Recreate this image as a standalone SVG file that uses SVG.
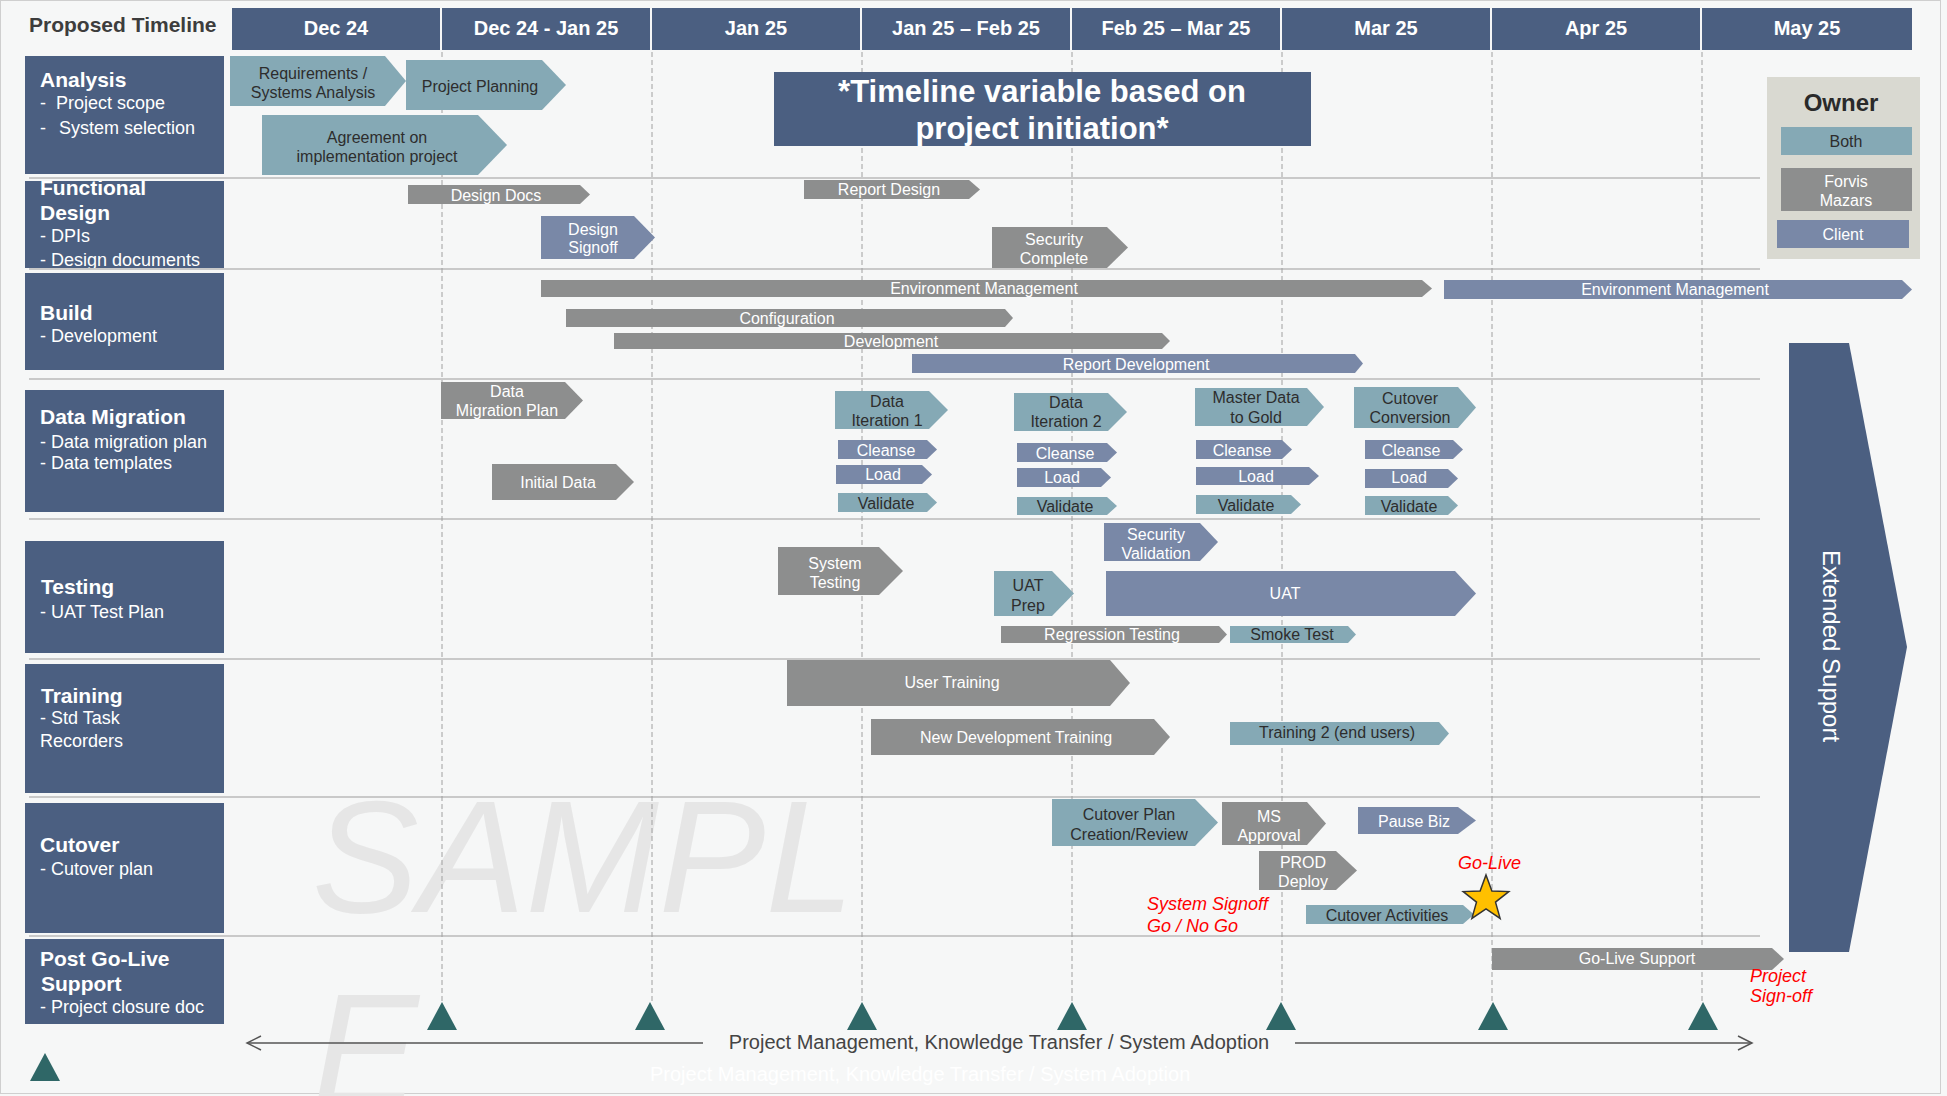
<svg xmlns="http://www.w3.org/2000/svg" width="1947" height="1096" viewBox="0 0 1947 1096">
<defs>
<style>
text{font-family:"Liberation Sans",Arial,sans-serif}
.hd{fill:#4B5F81}
.both{fill:#85A9B5}
.fm{fill:#8D8E8E}
.cl{fill:#7988A7}
.bt{font-size:16px;text-anchor:middle}
.dk{fill:#2d2d2d}
.wt{fill:#ffffff}
.col{font-size:20px;font-weight:bold;fill:#fff;text-anchor:middle}
.lt{font-size:21px;font-weight:bold;fill:#fff}
.ls{font-size:18px;fill:#fff}
.sep{stroke:#c9c9c9;stroke-width:2}
.dash{stroke:#a0a0a0;stroke-width:1;stroke-dasharray:5 3}
.ms{fill:#2F6767}
.red{font-size:18px;font-style:italic;fill:#ff0000}
.ln{stroke:#555;stroke-width:1.5;fill:none}
</style>
<clipPath id="fdclip"><rect x="25" y="181" width="199" height="87"/></clipPath>
</defs>
<rect x="0" y="0" width="1947" height="1096" fill="#F6F7F7"/>
<rect x="0.5" y="0.5" width="1940" height="1093" fill="none" stroke="#cfcfcf" stroke-width="1"/>

<!-- watermark -->
<text x="312" y="912" font-size="160" font-style="italic" fill="#e6e6e6">SAMPL</text>
<text x="312" y="1105" font-size="160" font-style="italic" fill="#e6e6e6">E</text>
<text x="650" y="1081" font-size="20" fill="#ffffff">Project Management, Knowledge Transfer / System Adoption</text>

<!-- grid -->
<g id="grid">
<line class="sep" x1="29" y1="178" x2="1760" y2="178"/>
<line class="sep" x1="29" y1="269" x2="1760" y2="269"/>
<line class="sep" x1="29" y1="379" x2="1760" y2="379"/>
<line class="sep" x1="29" y1="519" x2="1760" y2="519"/>
<line class="sep" x1="29" y1="659" x2="1760" y2="659"/>
<line class="sep" x1="29" y1="797" x2="1760" y2="797"/>
<line class="sep" x1="29" y1="936" x2="1760" y2="936"/>
<line class="dash" x1="442" y1="52" x2="442" y2="1002"/>
<line class="dash" x1="652" y1="52" x2="652" y2="1002"/>
<line class="dash" x1="862" y1="52" x2="862" y2="1002"/>
<line class="dash" x1="1072" y1="52" x2="1072" y2="1002"/>
<line class="dash" x1="1282" y1="52" x2="1282" y2="1002"/>
<line class="dash" x1="1492" y1="52" x2="1492" y2="1002"/>
<line class="dash" x1="1702" y1="52" x2="1702" y2="1002"/>
</g>

<!-- header -->
<g id="header">
<text x="29" y="32" font-size="21" font-weight="bold" fill="#3d3d3d">Proposed Timeline</text>
<rect class="hd" x="232" y="8" width="208" height="42"/>
<rect class="hd" x="442" y="8" width="208" height="42"/>
<rect class="hd" x="652" y="8" width="208" height="42"/>
<rect class="hd" x="862" y="8" width="208" height="42"/>
<rect class="hd" x="1072" y="8" width="208" height="42"/>
<rect class="hd" x="1282" y="8" width="208" height="42"/>
<rect class="hd" x="1492" y="8" width="208" height="42"/>
<rect class="hd" x="1702" y="8" width="210" height="42"/>
<text class="col" x="336" y="35">Dec 24</text>
<text class="col" x="546" y="35">Dec 24 - Jan 25</text>
<text class="col" x="756" y="35">Jan 25</text>
<text class="col" x="966" y="35">Jan 25 – Feb 25</text>
<text class="col" x="1176" y="35">Feb 25 – Mar 25</text>
<text class="col" x="1386" y="35">Mar 25</text>
<text class="col" x="1596" y="35">Apr 25</text>
<text class="col" x="1807" y="35">May 25</text>
</g>

<!-- row labels -->
<g id="label-analysis">
<rect class="hd" x="25" y="56" width="199" height="118"/>
<text class="lt" x="40" y="87">Analysis</text>
<text class="ls" y="109"><tspan x="40">-</tspan><tspan x="56">Project scope</tspan></text>
<text class="ls" y="134"><tspan x="40">-</tspan><tspan x="59">System selection</tspan></text>
</g>
<g id="label-functional-design">
<rect class="hd" x="25" y="181" width="199" height="87"/>
<g clip-path="url(#fdclip)">
<text class="lt" x="40" y="195">Functional</text>
<text class="lt" x="40" y="220">Design</text>
<text class="ls" x="40" y="242">- DPIs</text>
<text class="ls" x="40" y="266">- Design documents</text>
</g>
</g>
<g id="label-build">
<rect class="hd" x="25" y="273" width="199" height="97"/>
<text class="lt" x="40" y="320">Build</text>
<text class="ls" x="40" y="342">- Development</text>
</g>
<g id="label-data-migration">
<rect class="hd" x="25" y="390" width="199" height="122"/>
<text class="lt" x="40" y="424">Data Migration</text>
<text class="ls" x="40" y="448">- Data migration plan</text>
<text class="ls" x="40" y="469">- Data templates</text>
</g>
<g id="label-testing">
<rect class="hd" x="25" y="541" width="199" height="112"/>
<text class="lt" x="41" y="594" font-size="24">Testing</text>
<text class="ls" x="40" y="618">- UAT Test Plan</text>
</g>
<g id="label-training">
<rect class="hd" x="25" y="664" width="199" height="129"/>
<text class="lt" x="41" y="703">Training</text>
<text class="ls" x="40" y="724">- Std Task</text>
<text class="ls" x="40" y="747">Recorders</text>
</g>
<g id="label-cutover">
<rect class="hd" x="25" y="803" width="199" height="130"/>
<text class="lt" x="40" y="852">Cutover</text>
<text class="ls" x="40" y="875">- Cutover plan</text>
</g>
<g id="label-post-go-live">
<rect class="hd" x="25" y="939" width="199" height="85"/>
<text class="lt" x="40" y="966">Post Go-Live</text>
<text class="lt" x="41" y="991">Support</text>
<text class="ls" x="40" y="1013">- Project closure doc</text>
</g>

<!-- banner -->
<g id="timeline-note">
<rect class="hd" x="774" y="72" width="537" height="74"/>
<text x="1042" y="102" font-size="31" font-weight="bold" fill="#fff" text-anchor="middle">*Timeline variable based on</text>
<text x="1042" y="139" font-size="31" font-weight="bold" fill="#fff" text-anchor="middle">project initiation*</text>
</g>

<!-- legend -->
<g id="legend-owner">
<rect x="1767" y="77" width="153" height="182" fill="#D9D9D1"/>
<text x="1841" y="111" font-size="24" font-weight="bold" fill="#2a2a2a" text-anchor="middle">Owner</text>
<rect class="both" x="1781" y="127" width="131" height="28"/>
<text class="bt dk" x="1846" y="147">Both</text>
<rect class="fm" x="1781" y="168" width="131" height="43"/>
<text class="bt wt" x="1846" y="187">Forvis</text>
<text class="bt wt" x="1846" y="206">Mazars</text>
<rect class="cl" x="1777" y="220" width="132" height="28"/>
<text class="bt wt" x="1843" y="240">Client</text>
</g>

<!-- Analysis bars -->
<g id="req-analysis"><polygon class="both" points="230,56 385,56 406,81 385,106 230,106"/><text class="bt dk" x="313" y="79">Requirements /</text><text class="bt dk" x="313" y="98">Systems Analysis</text></g>
<g id="project-planning"><polygon class="both" points="406,60 542,60 566,85 542,110 406,110"/><text class="bt dk" x="480" y="92">Project Planning</text></g>
<g id="agreement"><polygon class="both" points="262,115 478,115 507,145 478,175 262,175"/><text class="bt dk" x="377" y="143">Agreement on</text><text class="bt dk" x="377" y="162">implementation project</text></g>

<!-- Functional design -->
<g id="design-docs"><polygon class="fm" points="408,185 580,185 590,194.5 580,204 408,204"/><text class="bt wt" x="496" y="201">Design Docs</text></g>
<g id="design-signoff"><polygon class="cl" points="541,216 634,216 655,237.5 634,259 541,259"/><text class="bt wt" x="593" y="235">Design</text><text class="bt wt" x="593" y="253">Signoff</text></g>
<g id="report-design"><polygon class="fm" points="804,180 969,180 980,189.5 969,199 804,199"/><text class="bt wt" x="889" y="195">Report Design</text></g>
<g id="security-complete"><polygon class="fm" points="992,227 1107,227 1128,247.5 1107,268 992,268"/><text class="bt wt" x="1054" y="245">Security</text><text class="bt wt" x="1054" y="264">Complete</text></g>

<!-- Build -->
<g id="env-mgmt-fm"><polygon class="fm" points="541,280 1422,280 1432,288.5 1422,297 541,297"/><text class="bt wt" x="984" y="294">Environment Management</text></g>
<g id="env-mgmt-client"><polygon class="cl" points="1444,280 1902,280 1912,289.5 1902,299 1444,299"/><text class="bt wt" x="1675" y="295">Environment Management</text></g>
<g id="configuration"><polygon class="fm" points="566,309 1005,309 1013,318 1005,327 566,327"/><text class="bt wt" x="787" y="324">Configuration</text></g>
<g id="development"><polygon class="fm" points="614,333 1162,333 1170,341 1162,349 614,349"/><text class="bt wt" x="891" y="347">Development</text></g>
<g id="report-development"><polygon class="cl" points="912,354 1355,354 1363,363.5 1355,373 912,373"/><text class="bt wt" x="1136" y="370">Report Development</text></g>

<!-- Data migration -->
<g id="dm-plan"><polygon class="fm" points="441,382 565,382 583,400.5 565,419 441,419"/><text class="bt wt" x="507" y="397">Data</text><text class="bt wt" x="507" y="416">Migration Plan</text></g>
<g id="initial-data"><polygon class="fm" points="492,464 616,464 634,482 616,500 492,500"/><text class="bt wt" x="558" y="488">Initial Data</text></g>
<g id="data-iter-1"><polygon class="both" points="835,391 929,391 948,410 929,429 835,429"/><text class="bt dk" x="887" y="407">Data</text><text class="bt dk" x="887" y="426">Iteration 1</text></g>
<g id="di1-cleanse"><polygon class="cl" points="838,440 927,440 937,449.5 927,459 838,459"/><text class="bt wt" x="886" y="456">Cleanse</text></g>
<g id="di1-load"><polygon class="cl" points="836,465 922,465 932,474.5 922,484 836,484"/><text class="bt wt" x="883" y="480">Load</text></g>
<g id="di1-validate"><polygon class="both" points="838,493 927,493 937,502.5 927,512 838,512"/><text class="bt dk" x="886" y="509">Validate</text></g>
<g id="data-iter-2"><polygon class="both" points="1014,393 1108,393 1127,412 1108,431 1014,431"/><text class="bt dk" x="1066" y="408">Data</text><text class="bt dk" x="1066" y="427">Iteration 2</text></g>
<g id="di2-cleanse"><polygon class="cl" points="1017,443 1107,443 1117,452.5 1107,462 1017,462"/><text class="bt wt" x="1065" y="459">Cleanse</text></g>
<g id="di2-load"><polygon class="cl" points="1017,468 1101,468 1111,477.5 1101,487 1017,487"/><text class="bt wt" x="1062" y="483">Load</text></g>
<g id="di2-validate"><polygon class="both" points="1017,497 1107,497 1117,506 1107,515 1017,515"/><text class="bt dk" x="1065" y="512">Validate</text></g>
<g id="master-data"><polygon class="both" points="1195,388 1307,388 1324,407 1307,426 1195,426"/><text class="bt dk" x="1256" y="403">Master Data</text><text class="bt dk" x="1256" y="423">to Gold</text></g>
<g id="md-cleanse"><polygon class="cl" points="1196,440 1282,440 1292,449.5 1282,459 1196,459"/><text class="bt wt" x="1242" y="456">Cleanse</text></g>
<g id="md-load"><polygon class="cl" points="1196,467 1309,467 1319,476 1309,485 1196,485"/><text class="bt wt" x="1256" y="482">Load</text></g>
<g id="md-validate"><polygon class="both" points="1196,495 1291,495 1301,504.5 1291,514 1196,514"/><text class="bt dk" x="1246" y="511">Validate</text></g>
<g id="cutover-conversion"><polygon class="both" points="1354,387 1458,387 1476,407.5 1458,428 1354,428"/><text class="bt dk" x="1410" y="404">Cutover</text><text class="bt dk" x="1410" y="423">Conversion</text></g>
<g id="cc-cleanse"><polygon class="cl" points="1365,440 1453,440 1463,449.5 1453,459 1365,459"/><text class="bt wt" x="1411" y="456">Cleanse</text></g>
<g id="cc-load"><polygon class="cl" points="1365,469 1448,469 1458,478.5 1448,488 1365,488"/><text class="bt wt" x="1409" y="483">Load</text></g>
<g id="cc-validate"><polygon class="both" points="1365,496 1448,496 1458,505.5 1448,515 1365,515"/><text class="bt dk" x="1409" y="512">Validate</text></g>

<!-- Testing -->
<g id="security-validation"><polygon class="cl" points="1104,523 1200,523 1218,542 1200,561 1104,561"/><text class="bt wt" x="1156" y="540">Security</text><text class="bt wt" x="1156" y="559">Validation</text></g>
<g id="system-testing"><polygon class="fm" points="778,547 879,547 903,571 879,595 778,595"/><text class="bt wt" x="835" y="569">System</text><text class="bt wt" x="835" y="588">Testing</text></g>
<g id="uat-prep"><polygon class="both" points="994,571 1052,571 1074,593.5 1052,616 994,616"/><text class="bt dk" x="1028" y="591">UAT</text><text class="bt dk" x="1028" y="611">Prep</text></g>
<g id="uat"><polygon class="cl" points="1106,571 1455,571 1476,593.5 1455,616 1106,616"/><text class="bt wt" x="1285" y="599">UAT</text></g>
<g id="regression-testing"><polygon class="fm" points="1001,626 1219,626 1227,634.5 1219,643 1001,643"/><text class="bt wt" x="1112" y="640">Regression Testing</text></g>
<g id="smoke-test"><polygon class="both" points="1230,626 1348,626 1356,634.5 1348,643 1230,643"/><text class="bt dk" x="1292" y="640">Smoke Test</text></g>

<!-- Training -->
<g id="user-training"><polygon class="fm" points="787,660 1110,660 1130,683 1110,706 787,706"/><text class="bt wt" x="952" y="688">User Training</text></g>
<g id="new-dev-training"><polygon class="fm" points="871,719 1154,719 1170,737 1154,755 871,755"/><text class="bt wt" x="1016" y="743">New Development Training</text></g>
<g id="training-2"><polygon class="both" points="1230,722 1439,722 1449,733.5 1439,745 1230,745"/><text class="bt dk" x="1337" y="738">Training 2 (end users)</text></g>

<!-- Cutover -->
<g id="cutover-plan"><polygon class="both" points="1052,799 1195,799 1218,822.5 1195,846 1052,846"/><text class="bt dk" x="1129" y="820">Cutover Plan</text><text class="bt dk" x="1129" y="840">Creation/Review</text></g>
<g id="ms-approval"><polygon class="fm" points="1222,802 1307,802 1326,823.5 1307,845 1222,845"/><text class="bt wt" x="1269" y="822">MS</text><text class="bt wt" x="1269" y="841">Approval</text></g>
<g id="pause-biz"><polygon class="cl" points="1358,807 1458,807 1476,820.5 1458,834 1358,834"/><text class="bt wt" x="1414" y="827">Pause Biz</text></g>
<g id="prod-deploy"><polygon class="fm" points="1259,851 1336,851 1357,870.5 1336,890 1259,890"/><text class="bt wt" x="1303" y="868">PROD</text><text class="bt wt" x="1303" y="887">Deploy</text></g>
<g id="cutover-activities"><polygon class="both" points="1306,905 1463,905 1474,914.5 1463,924 1306,924"/><text class="bt dk" x="1387" y="921">Cutover Activities</text></g>
<g id="system-signoff"><text class="red" x="1147" y="910">System Signoff</text><text class="red" x="1147" y="932">Go / No Go</text></g>
<g id="go-live"><text class="red" x="1458" y="869">Go-Live</text>
<polygon points="1486,875 1491.9,890.9 1508.8,891.6 1495.5,902.1 1500.1,918.4 1486,909 1471.9,918.4 1476.5,902.1 1463.2,891.6 1480.1,890.9" fill="#FFC000" stroke="#333" stroke-width="1.5"/></g>

<!-- Post go-live -->
<g id="go-live-support"><polygon class="fm" points="1492,948 1772,948 1784,959 1772,970 1492,970"/><text class="bt wt" x="1637" y="964">Go-Live Support</text></g>
<g id="project-signoff"><text class="red" x="1750" y="982">Project</text><text class="red" x="1750" y="1002">Sign-off</text></g>

<!-- Extended support -->
<g id="extended-support">
<polygon class="hd" points="1789,343 1849,343 1907,647 1849,952 1789,952"/>
<text transform="translate(1823,646) rotate(90)" font-size="24" fill="#fff" text-anchor="middle">Extended  Support</text>
</g>

<!-- milestones -->
<g id="milestones">
<polygon class="ms" points="442,1002 427,1030 457,1030"/>
<polygon class="ms" points="650,1002 635,1030 665,1030"/>
<polygon class="ms" points="862,1002 847,1030 877,1030"/>
<polygon class="ms" points="1072,1002 1057,1030 1087,1030"/>
<polygon class="ms" points="1281,1002 1266,1030 1296,1030"/>
<polygon class="ms" points="1493,1002 1478,1030 1508,1030"/>
<polygon class="ms" points="1703,1002 1688,1030 1718,1030"/>
<polygon class="ms" points="45,1053 30,1081 60,1081"/>
</g>

<!-- connectors -->
<g id="connectors">
<line class="ln" x1="247" y1="1043" x2="703" y2="1043"/>
<line class="ln" x1="1295" y1="1043" x2="1752" y2="1043"/>
<polyline class="ln" points="261,1036 247,1043 261,1050"/>
<polyline class="ln" points="1738,1036 1752,1043 1738,1050"/>
</g>
<text x="999" y="1049" font-size="20" fill="#444" text-anchor="middle">Project Management, Knowledge Transfer / System Adoption</text>
</svg>
